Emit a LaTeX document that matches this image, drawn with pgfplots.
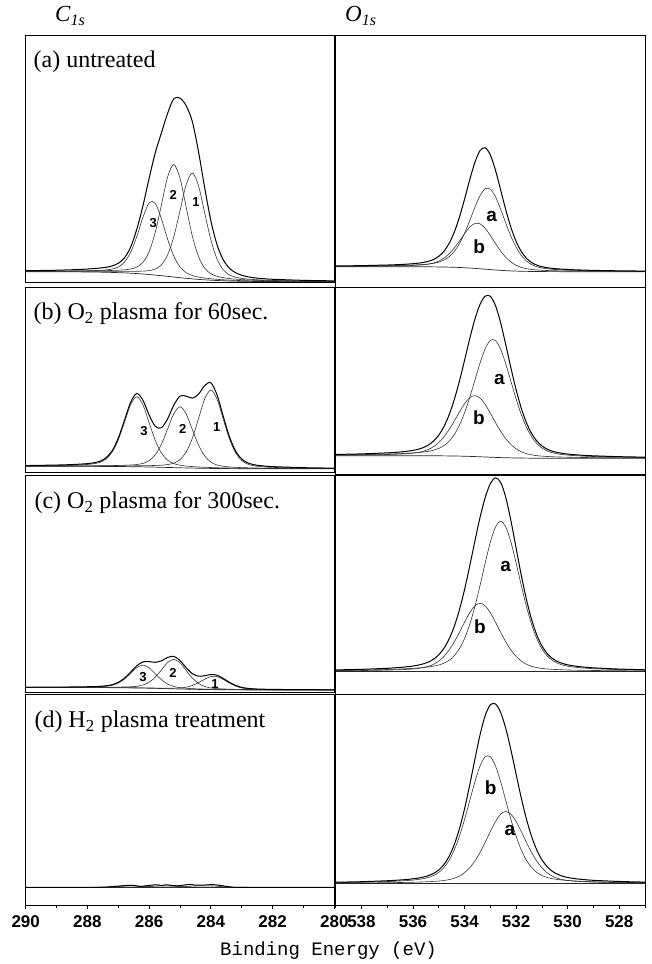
\documentclass[border=0pt]{standalone}
\usepackage{fontspec}
\setmainfont{Liberation Serif}
\newfontfamily\sansfont{Liberation Sans}
\newfontfamily\monofont{Liberation Mono}
\usepackage{pgfplots}
\usepackage{pgfplotstable}
\pgfplotsset{compat=1.18}

% C 1s fits: energy, background, components 1-3, envelope
\pgfplotstableread{
E B c1 c2 c3 env
290.0 11.00 11.27 11.36 11.33 11.96
289.0 10.93 11.33 11.50 11.49 12.46
288.6 10.88 11.37 11.60 11.62 12.83
288.4 10.84 11.38 11.65 11.69 13.04
288.2 10.79 11.39 11.70 11.79 13.30
288.0 10.73 11.41 11.78 11.92 13.65
287.8 10.66 11.42 11.86 12.10 14.06
287.6 10.56 11.42 11.97 12.34 14.61
287.4 10.43 11.41 12.08 12.75 15.38
287.2 10.26 11.39 12.24 13.60 16.71
287.0 10.06 11.38 12.48 15.67 19.41
286.8 9.81 11.37 12.88 20.53 24.80
286.6 9.50 11.36 13.66 30.32 35.50
286.4 9.13 11.40 15.58 46.13 53.50
286.2 8.69 11.58 20.37 65.37 77.00
286.0 8.18 12.09 31.02 79.92 104.50
285.8 7.61 13.67 50.47 79.35 130.00
285.6 6.99 17.97 78.10 63.67 150.00
285.4 6.33 27.81 105.90 43.33 169.50
285.2 5.67 45.98 118.17 26.49 184.00
285.0 5.01 71.89 104.58 15.73 184.50
284.8 4.39 98.03 75.50 10.00 177.00
284.6 3.82 109.62 46.68 7.16 161.00
284.4 3.31 96.95 26.15 5.63 131.00
284.2 2.87 69.75 14.55 4.65 95.00
284.0 2.50 42.81 8.95 3.94 62.00
283.8 2.19 23.67 6.35 3.38 38.00
283.6 1.94 12.92 5.01 2.94 23.00
283.4 1.74 7.80 4.16 2.59 14.50
283.2 1.57 5.48 3.55 2.31 10.00
283.0 1.44 4.33 3.09 2.08 7.50
282.8 1.34 3.61 2.75 1.90 5.90
282.6 1.27 3.13 2.47 1.77 4.90
282.4 1.21 2.77 2.26 1.65 4.30
282.2 1.16 2.48 2.07 1.56 3.80
282.0 1.12 2.25 1.93 1.48 3.42
281.0 1.03 1.63 1.50 1.26 2.33
280.0 1.00 1.37 1.31 1.16 1.84
}\Ca

\pgfplotstableread{
E B c1 c2 c3 env
290.0 5.99 6.15 6.17 6.39 6.73
289.0 5.98 6.21 6.26 6.73 7.24
288.6 5.97 6.24 6.32 7.00 7.62
288.4 5.96 6.26 6.35 7.19 7.88
288.2 5.95 6.28 6.39 7.46 8.23
288.0 5.93 6.29 6.42 7.84 8.69
287.8 5.92 6.32 6.49 8.51 9.48
287.6 5.89 6.34 6.54 9.90 11.00
287.4 5.86 6.36 6.62 13.13 14.39
287.2 5.82 6.38 6.72 20.03 21.49
287.0 5.77 6.41 6.84 32.44 34.15
286.8 5.70 6.43 7.01 49.95 51.99
286.6 5.63 6.47 7.30 67.59 70.10
286.4 5.53 6.51 7.79 75.53 78.77
286.2 5.42 6.57 8.92 67.38 72.03
286.0 5.30 6.68 11.63 49.55 57.26
285.8 5.15 6.84 17.53 31.82 45.89
285.6 5.00 7.14 28.24 19.21 44.59
285.4 4.83 7.73 43.39 12.10 53.56
285.2 4.67 9.16 58.66 8.68 67.16
285.0 4.50 12.64 65.50 7.09 76.23
284.8 4.35 20.27 58.34 6.26 76.17
284.6 4.21 34.08 42.77 5.72 74.15
284.4 4.08 53.64 27.32 5.31 78.11
284.2 3.97 73.36 16.35 5.00 86.77
284.0 3.88 82.28 10.21 4.76 89.49
283.8 3.80 73.19 7.30 4.55 77.44
283.6 3.74 53.30 6.00 4.39 56.21
283.4 3.69 33.56 5.36 4.26 35.80
283.2 3.64 19.56 4.95 4.14 21.37
283.0 3.61 11.75 4.68 4.06 13.27
282.8 3.59 8.08 4.49 3.99 9.38
282.6 3.57 6.47 4.33 3.93 7.59
282.4 3.55 5.69 4.20 3.87 6.66
282.2 3.54 5.23 4.11 3.83 6.09
282.0 3.53 4.91 4.02 3.80 5.67
281.0 3.51 4.15 3.79 3.69 4.61
280.0 3.50 3.86 3.68 3.63 4.17
}\Cb

\pgfplotstableread{
E B c1 c2 c3 env
290.0 4.50 4.53 4.59 4.62 4.74
289.0 4.48 4.52 4.63 4.69 4.88
288.6 4.47 4.51 4.66 4.76 4.99
288.4 4.46 4.51 4.67 4.80 5.06
288.2 4.45 4.50 4.69 4.85 5.14
288.0 4.43 4.49 4.70 4.92 5.25
287.8 4.42 4.49 4.74 5.05 5.44
287.6 4.39 4.46 4.76 5.24 5.68
287.4 4.36 4.44 4.79 5.68 6.19
287.2 4.32 4.41 4.84 6.71 7.32
287.0 4.27 4.37 4.90 8.94 9.67
286.8 4.20 4.32 5.01 12.96 13.89
286.6 4.13 4.27 5.22 18.67 19.90
286.4 4.03 4.19 5.72 24.39 26.24
286.2 3.92 4.10 6.98 26.92 30.16
286.0 3.80 4.02 9.79 24.16 30.37
285.8 3.65 3.91 14.89 18.19 29.69
285.6 3.50 3.83 22.15 12.26 31.24
285.4 3.33 3.75 29.44 8.00 34.53
285.2 3.17 3.78 32.67 5.56 35.67
285.0 3.00 4.02 29.11 4.32 31.45
284.8 2.85 4.80 21.50 3.70 24.30
284.6 2.71 6.51 13.95 3.34 18.38
284.4 2.58 9.33 8.57 3.07 15.81
284.2 2.47 12.81 5.53 2.87 16.27
284.0 2.38 15.47 4.07 2.72 17.50
283.8 2.30 15.39 3.39 2.59 16.77
283.6 2.24 12.58 3.05 2.49 13.64
283.4 2.19 8.94 2.82 2.40 9.78
283.2 2.14 5.94 2.66 2.33 6.65
283.0 2.11 4.06 2.54 2.28 4.66
282.8 2.09 3.11 2.46 2.24 3.63
282.6 2.07 2.68 2.39 2.20 3.13
282.4 2.05 2.47 2.32 2.17 2.86
282.2 2.04 2.37 2.28 2.15 2.72
282.0 2.03 2.29 2.24 2.13 2.60
281.0 2.01 2.13 2.13 2.07 2.31
280.0 2.00 2.07 2.08 2.05 2.20
}\Cc

% O 1s fits: energy, background, components a and b, envelope
\pgfplotstableread{
E B ca cb env
539.0 20.60 21.04 20.88 21.32
538.0 20.60 21.24 21.02 21.66
537.0 20.59 21.58 21.27 22.26
536.8 20.59 21.68 21.35 22.44
536.6 20.58 21.79 21.43 22.64
536.4 20.58 21.94 21.54 22.90
536.2 20.57 22.09 21.68 23.20
536.0 20.55 22.28 21.86 23.59
535.8 20.54 22.53 22.12 24.11
535.6 20.51 22.85 22.51 24.85
535.4 20.48 23.31 23.17 26.00
535.2 20.43 24.01 24.30 27.88
535.0 20.36 25.18 26.17 30.99
534.8 20.28 27.21 29.14 36.07
534.6 20.16 30.56 33.47 43.87
534.4 20.00 35.87 39.27 55.14
534.2 19.81 43.66 46.28 70.13
534.0 19.56 54.08 53.67 88.19
533.8 19.26 66.67 60.12 107.53
533.6 18.90 80.00 63.84 124.94
533.4 18.51 91.70 63.45 136.64
533.2 18.10 98.61 58.96 139.47
533.0 17.69 98.20 51.80 132.31
532.8 17.30 90.49 43.77 116.96
532.6 16.94 78.04 36.21 97.31
532.4 16.64 64.05 29.95 77.36
532.2 16.39 50.91 25.25 59.77
532.0 16.20 40.05 22.01 45.86
531.8 16.04 31.91 19.91 35.78
531.6 15.92 26.32 18.61 29.01
531.4 15.84 22.77 17.84 24.77
531.2 15.77 20.59 17.35 22.17
531.0 15.72 19.30 17.03 20.61
530.8 15.69 18.52 16.80 19.63
530.6 15.67 18.01 16.63 18.97
530.4 15.65 17.64 16.50 18.49
530.2 15.63 17.36 16.39 18.12
530.0 15.62 17.14 16.30 17.82
529.8 15.62 16.98 16.23 17.59
529.6 15.61 16.82 16.16 17.37
529.4 15.61 16.70 16.11 17.20
529.2 15.61 16.60 16.07 17.06
529.0 15.60 16.50 16.02 16.92
528.0 15.60 16.19 15.88 16.47
527.0 15.60 16.01 15.80 16.21
}\Oa

\pgfplotstableread{
E B ca cb env
539.0 18.30 19.06 18.79 19.55
538.0 18.30 19.37 19.03 20.10
537.0 18.30 19.93 19.50 21.13
536.8 18.29 20.08 19.63 21.42
536.6 18.29 20.27 19.82 21.80
536.4 18.29 20.48 20.05 22.24
536.2 18.28 20.73 20.37 22.82
536.0 18.28 21.05 20.85 23.62
535.8 18.27 21.43 21.57 24.73
535.6 18.25 21.96 22.73 26.44
535.4 18.24 22.70 24.57 29.03
535.2 18.21 23.80 27.38 32.97
535.0 18.18 25.57 31.51 38.90
534.8 18.13 28.38 37.17 47.42
534.6 18.07 32.78 44.40 59.11
534.4 17.99 39.41 52.91 74.33
534.2 17.89 48.81 61.94 92.86
534.0 17.76 61.29 70.27 113.80
533.8 17.60 76.60 76.30 135.30
533.6 17.42 93.79 78.42 154.79
533.4 17.21 110.95 75.91 169.65
533.2 17.00 125.34 69.51 177.85
533.0 16.79 133.66 60.84 177.71
532.8 16.58 133.45 51.50 168.37
532.6 16.40 124.74 42.73 151.07
532.4 16.24 109.98 35.28 129.02
532.2 16.11 92.48 29.44 105.81
532.0 16.01 75.01 25.18 84.18
531.8 15.93 59.46 22.26 65.79
531.6 15.87 46.79 20.35 51.27
531.4 15.82 37.24 19.12 40.54
531.2 15.79 30.50 18.36 33.07
531.0 15.76 26.01 17.85 28.10
530.8 15.75 23.14 17.51 24.90
530.6 15.73 21.32 17.26 22.85
530.4 15.72 20.18 17.06 21.52
530.2 15.72 19.43 16.92 20.63
530.0 15.71 18.87 16.78 19.94
529.8 15.71 18.48 16.68 19.45
529.6 15.71 18.16 16.59 19.04
529.4 15.70 17.89 16.51 18.70
529.2 15.70 17.68 16.43 18.41
529.0 15.70 17.49 16.38 18.17
528.0 15.70 16.86 16.16 17.32
527.0 15.70 16.50 16.04 16.84
}\Ob

\pgfplotstableread{
E B ca cb env
539.0 23.00 23.87 23.52 24.39
538.0 23.00 24.22 23.75 24.97
537.0 23.00 24.80 24.20 26.00
536.8 23.00 24.98 24.33 26.31
536.6 23.00 25.18 24.50 26.68
536.4 23.00 25.39 24.71 27.10
536.2 23.00 25.64 24.97 27.61
536.0 23.00 25.94 25.33 28.27
535.8 23.00 26.30 25.86 29.16
535.6 23.00 26.77 26.68 30.45
535.4 23.00 27.34 27.99 32.33
535.2 23.00 28.15 30.06 35.21
535.0 23.00 29.32 33.23 39.55
534.8 23.00 31.12 37.86 45.98
534.6 23.00 34.01 44.22 55.23
534.4 23.00 38.57 52.36 67.93
534.2 23.00 45.56 61.92 84.48
534.0 23.00 55.79 72.10 104.89
533.8 23.00 69.82 81.54 128.36
533.6 23.00 87.76 88.44 153.20
533.4 23.00 108.86 91.00 176.86
533.2 23.00 131.32 88.44 196.76
533.0 23.00 152.14 81.54 210.68
532.8 23.00 167.35 72.10 216.45
532.6 23.00 173.00 61.92 211.92
532.4 23.00 167.35 52.36 196.71
532.2 23.00 152.14 44.22 173.36
532.0 23.00 131.32 37.86 146.18
531.8 23.00 108.86 33.23 119.09
531.6 23.00 87.76 30.06 94.82
531.4 23.00 69.82 27.99 74.81
531.2 23.00 55.79 26.68 59.47
531.0 23.00 45.56 25.86 48.42
530.8 23.00 38.57 25.33 40.90
530.6 23.00 34.01 24.97 35.98
530.4 23.00 31.12 24.71 32.83
530.2 23.00 29.32 24.50 30.82
530.0 23.00 28.15 24.33 29.48
529.8 23.00 27.34 24.20 28.54
529.6 23.00 26.77 24.08 27.85
529.4 23.00 26.30 23.99 27.29
529.2 23.00 25.94 23.90 26.84
529.0 23.00 25.64 23.82 26.46
528.0 23.00 24.67 23.55 25.22
527.0 23.00 24.14 23.39 24.53
}\Oc

\pgfplotstableread{
E B ca cb env
539.0 22.00 22.40 22.87 23.27
538.0 22.00 22.55 23.25 23.80
537.0 22.00 22.80 23.95 24.75
536.8 22.00 22.86 24.15 25.01
536.6 22.00 22.95 24.38 25.33
536.4 22.00 23.04 24.66 25.70
536.2 22.00 23.14 25.01 26.15
536.0 22.00 23.27 25.43 26.70
535.8 22.00 23.41 26.02 27.43
535.6 22.00 23.58 26.84 28.42
535.4 22.00 23.81 28.07 29.88
535.2 22.00 24.08 30.01 32.09
535.0 22.00 24.47 33.12 35.59
534.8 22.00 25.03 37.96 40.99
534.6 22.00 25.90 45.23 49.13
534.4 22.00 27.28 55.54 60.82
534.2 22.00 29.47 69.22 76.69
534.0 22.00 32.83 86.00 96.83
533.8 22.00 37.74 104.84 120.58
533.6 22.00 44.47 123.68 146.15
533.4 22.00 53.08 139.52 170.60
533.2 22.00 63.21 148.77 189.98
533.0 22.00 73.99 148.77 200.76
532.8 22.00 83.98 139.52 201.50
532.6 22.00 91.29 123.68 192.97
532.4 22.00 94.00 104.84 176.84
532.2 22.00 91.29 86.00 155.29
532.0 22.00 83.98 69.22 131.20
531.8 22.00 73.99 55.54 107.53
531.6 22.00 63.21 45.23 86.44
531.4 22.00 53.08 37.96 69.04
531.2 22.00 44.47 33.12 55.59
531.0 22.00 37.74 30.01 45.75
530.8 22.00 32.83 28.07 38.90
530.6 22.00 29.47 26.84 34.31
530.4 22.00 27.28 26.02 31.30
530.2 22.00 25.90 25.43 29.33
530.0 22.00 25.03 25.01 28.04
529.8 22.00 24.47 24.66 27.13
529.6 22.00 24.08 24.38 26.46
529.4 22.00 23.81 24.15 25.96
529.2 22.00 23.58 23.95 25.53
529.0 22.00 23.41 23.77 25.18
528.0 22.00 22.86 23.16 24.02
527.0 22.00 22.58 22.82 23.40
}\Od

\pgfplotsset{
  panel/.style={scale only axis, anchor=south west, x dir=reverse, ymin=0,
    ytick=\empty, xtick=\empty, axis line style={black, line width=0.9pt},
    every axis plot/.append style={smooth, tension=0.5, no markers}},
  leftcol/.style={panel, width=308.6pt, xmin=280, xmax=290},
  rightcol/.style={panel, width=309.3pt, xmin=527, xmax=539},
  env/.style={black, line width=1.0pt},
  comp/.style={black!80, line width=0.6pt},
  bg/.style={black!85, line width=0.7pt},
  bottomticks/.style={xtick pos=left, tick align=outside,
    major tick length=4pt, minor tick length=2.5pt,
    tick style={black, line width=0.8pt},
    xticklabel style={font=\sansfont\bfseries\fontsize{17}{17}\selectfont,
      inner sep=0pt, anchor=north, yshift=-6pt},
    /pgf/number format/assume math mode=true},
}
\tikzset{
  plabel/.style={anchor=base west, inner sep=0pt, font=\fontsize{24}{28}\selectfont},
  num/.style={inner sep=0pt, font=\sansfont\bfseries\fontsize{13}{13}\selectfont},
  lett/.style={inner sep=0pt, font=\sansfont\bfseries\fontsize{19}{19}\selectfont},
  coltitle/.style={anchor=base west, inner sep=0pt, font=\itshape\fontsize{23}{23}\selectfont},
}
\newcommand{\sub}[1]{\raisebox{-4pt}{\fontsize{16}{16}\selectfont #1}}

\begin{document}
\begin{tikzpicture}
% ---------- C 1s column ----------
\begin{axis}[leftcol, at={(25.7pt,681.3pt)}, height=247pt, ymax=247]
  \addplot[bg]   table[x=E,y=B]   {\Ca};
  \addplot[comp] table[x=E,y=c1]  {\Ca};
  \addplot[comp] table[x=E,y=c2]  {\Ca};
  \addplot[comp] table[x=E,y=c3]  {\Ca};
  \addplot[env]  table[x=E,y=env] {\Ca};
  \node[plabel] at (axis cs:289.75,215.3) {(a) untreated};
  \node[num] at (axis cs:285.87,60) {3};
  \node[num] at (axis cs:285.22,87.7) {2};
  \node[num] at (axis cs:284.48,81) {1};
\end{axis}
\begin{axis}[leftcol, at={(25.7pt,491.7pt)}, height=185pt, ymax=185]
  \addplot[bg]   table[x=E,y=B]   {\Cb};
  \addplot[comp] table[x=E,y=c1]  {\Cb};
  \addplot[comp] table[x=E,y=c2]  {\Cb};
  \addplot[comp] table[x=E,y=c3]  {\Cb};
  \addplot[env]  table[x=E,y=env] {\Cb};
  \node[plabel] at (axis cs:289.75,153) {(b) O\textsubscript{2} plasma for 60sec.};
  \node[num] at (axis cs:286.17,41.6) {3};
  \node[num] at (axis cs:284.91,43) {2};
  \node[num] at (axis cs:283.81,45.6) {1};
\end{axis}
\begin{axis}[leftcol, at={(25.7pt,272pt)}, height=217pt, ymax=217]
  \addplot[bg]   table[x=E,y=B]   {\Cc};
  \addplot[comp] table[x=E,y=c1]  {\Cc};
  \addplot[comp] table[x=E,y=c2]  {\Cc};
  \addplot[comp] table[x=E,y=c3]  {\Cc};
  \addplot[env]  table[x=E,y=env] {\Cc};
  \node[plabel] at (axis cs:289.72,183.7) {(c) O\textsubscript{2} plasma for 300sec.};
  \node[num] at (axis cs:286.2,15) {3};
  \node[num] at (axis cs:285.23,19) {2};
  \node[num] at (axis cs:283.87,8) {1};
\end{axis}
\begin{axis}[leftcol, bottomticks, at={(25.7pt,58.5pt)}, height=211.5pt, ymax=211.5,
  xtick={280,282,...,290}, minor xtick={281,283,...,289}]
  \addplot[bg] coordinates {(290,18.2) (280,18.2)};
  \addplot[comp] coordinates {(287.8,18.2) (287.2,18.5) (286.8,19.4) (286.6,19.6) (286.4,19.4) (286.0,18.6) (285.6,18.3) (285.0,18.2)};
  \addplot[comp] coordinates {(286.8,18.2) (286.2,18.6) (285.8,19.4) (285.5,19.7) (285.2,19.4) (284.8,18.6) (284.4,18.3) (284.0,18.2)};
  \addplot[comp] coordinates {(285.6,18.2) (285.0,18.6) (284.6,19.4) (284.2,19.7) (283.9,19.4) (283.5,18.6) (283.1,18.3) (282.8,18.2)};
  \addplot[env] coordinates {(290,18.2) (287.8,18.2) (287.4,18.5) (287.0,19.4) (286.7,20.1) (286.5,20.2) (286.3,19.1) (286.1,19.7) (285.9,20.4) (285.75,20.7) (285.6,20.0) (285.45,20.7) (285.3,20.2) (285.1,19.7) (284.9,20.3) (284.7,21.1) (284.5,20.4) (284.3,20.3) (284.1,20.7) (283.9,20.8) (283.7,20.1) (283.5,19.1) (283.3,18.4) (283.0,18.2) (280,18.2)};
  \node[plabel] at (axis cs:289.72,177.8) {(d) H\textsubscript{2} plasma treatment};
\end{axis}
% ---------- O 1s column ----------
\begin{axis}[rightcol, at={(335.7pt,676.7pt)}, height=251.6pt, ymax=251.6]
  \addplot[bg]   table[x=E,y=B]   {\Oa};
  \addplot[comp] table[x=E,y=ca]  {\Oa};
  \addplot[comp] table[x=E,y=cb]  {\Oa};
  \addplot[env]  table[x=E,y=env] {\Oa};
  \node[lett] at (axis cs:532.95,70.6) {a};
  \node[lett] at (axis cs:533.43,40.6) {b};
\end{axis}
\begin{axis}[rightcol, at={(335.7pt,490pt)}, height=186.7pt, ymax=186.7]
  \addplot[bg]   table[x=E,y=B]   {\Ob};
  \addplot[comp] table[x=E,y=ca]  {\Ob};
  \addplot[comp] table[x=E,y=cb]  {\Ob};
  \addplot[env]  table[x=E,y=env] {\Ob};
  \node[lett] at (axis cs:532.65,95) {a};
  \node[lett] at (axis cs:533.44,56.3) {b};
\end{axis}
\begin{axis}[rightcol, at={(335.7pt,269.7pt)}, height=219.3pt, ymax=219.3]
  \addplot[bg]   table[x=E,y=B]   {\Oc};
  \addplot[comp] table[x=E,y=ca]  {\Oc};
  \addplot[comp] table[x=E,y=cb]  {\Oc};
  \addplot[env]  table[x=E,y=env] {\Oc};
  \node[lett] at (axis cs:532.41,127.6) {a};
  \node[lett] at (axis cs:533.40,67.6) {b};
\end{axis}
\begin{axis}[rightcol, bottomticks, at={(335.7pt,58.5pt)}, height=211.2pt, ymax=211.2,
  xtick={528,530,...,538}, minor xtick={527,529,...,539}]
  \addplot[bg]   table[x=E,y=B]   {\Od};
  \addplot[comp] table[x=E,y=ca]  {\Od};
  \addplot[comp] table[x=E,y=cb]  {\Od};
  \addplot[env]  table[x=E,y=env] {\Od};
  \node[lett] at (axis cs:532.24,75.5) {a};
  \node[lett] at (axis cs:532.99,118.2) {b};
\end{axis}
% ---------- titles ----------
\node[coltitle] at (55pt,942.3pt) {C\sub{1s}};
\node[coltitle] at (345pt,942.3pt) {O\sub{1s}};
\node[anchor=base west, inner sep=0pt, font=\monofont\fontsize{19}{19}\selectfont]
  at (220pt,9pt) {Binding Energy (eV)};
\pgfresetboundingbox
\useasboundingbox (0pt,0pt) rectangle (652pt,964pt);
\end{tikzpicture}
\end{document}
